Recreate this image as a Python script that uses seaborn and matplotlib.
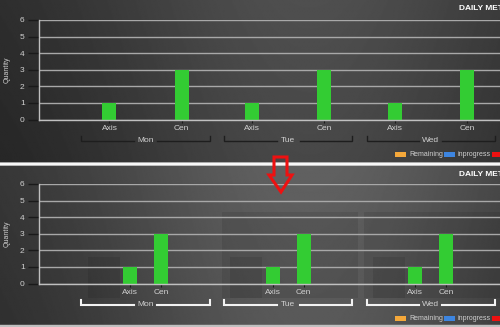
import numpy as np
import pandas as pd
import matplotlib
matplotlib.use("Agg")
import matplotlib.pyplot as plt
from matplotlib.patches import Rectangle, Polygon
import seaborn as sns

days = ["Mon", "Tue", "Wed"]
items = ["Axis", "Cen"]
axis_vals = [1, 1, 1]
cen_vals = [3, 3, 3]
yticks = [0, 1, 2, 3, 4, 5, 6]
legend_labels = ["Remaining", "inprogress", "completed"]
legend_colors = ["#f5a83a", "#3d85e0", "#ee1111"]
title = "DAILY METRICS"
ylabel = "Quantity"

df = pd.DataFrame({
    "day": days * 2,
    "item": ["Axis"] * 3 + ["Cen"] * 3,
    "value": axis_vals + cen_vals,
})

plt.rcParams["font.family"] = ["Liberation Sans", "DejaVu Sans"]

W, H = 500, 327
fig = plt.figure(figsize=(5, 3.27), dpi=100)


def fx(x):
    return x / W


def fy(y):
    return 1 - y / H


# background gradients
bg = fig.add_axes([0, 0, 1, 1], zorder=-10)
bg.set_axis_off()
xs = np.linspace(0, 1, 400)
ys = np.linspace(0, 1, 300)
X, Y = np.meshgrid(xs, ys)
img = np.zeros_like(X)
ypx = Y * H
top = ypx < 162.5
bot = (ypx >= 165.5) & (ypx < 325)
horiz = np.exp(-((X - 0.62) / 0.45) ** 2)
img[:] = 1.0
img[top] = (0.16 + 0.15 * horiz)[top] - 0.03 * (ypx[top] / 162)
img[bot] = (0.19 + 0.19 * horiz)[bot] - 0.03 * ((ypx[bot] - 165) / 160)
img[(ypx >= 162.5) & (ypx < 165.5)] = 0.97
img[ypx >= 325] = 0.75
bg.imshow(img, cmap="gray", vmin=0, vmax=1, extent=[0, 1, 0, 1],
          aspect="auto", origin="upper", interpolation="bilinear")
bg.set_xlim(0, 1)
bg.set_ylim(0, 1)

green = "#33cc33"
grid_c = "#a8a8a8"
tick_c = "#d0d0d0"


def make_panel(y0, y6, bracket_color, bracket_lw, width, gap):
    ax = fig.add_axes([fx(38.5), fy(y0), 1 - fx(38.5), fy(y6) - fy(y0)])
    ax.patch.set_alpha(0)
    sns.barplot(data=df, x="day", y="value", hue="item", order=days,
                hue_order=items, palette=[green, green], width=width,
                gap=gap, legend=False, ax=ax, saturation=1, edgecolor="none")
    ax.set_ylim(0, 6)
    ax.set_xlim(-0.75, 2.485)
    ax.set_yticks(yticks)
    ax.set_yticklabels([str(t) for t in yticks], color=tick_c, fontsize=6)
    ax.tick_params(axis="y", length=8, width=1, color="#1a1a1a", pad=2)
    ax.yaxis.grid(True, color=grid_c, lw=1)
    ax.set_axisbelow(True)
    for s in ["top", "right"]:
        ax.spines[s].set_visible(False)
    for s in ["left", "bottom"]:
        ax.spines[s].set_color("#c0c0c0")
        ax.spines[s].set_linewidth(1)
    centers = sorted(p.get_x() + p.get_width() / 2 for p in ax.patches)
    labels = [items[k % 2] for k in range(len(centers))]
    ax.set_xticks(centers)
    ax.set_xticklabels(labels, color=tick_c, fontsize=6)
    ax.tick_params(axis="x", length=2, color="#1a1a1a", pad=2)
    ax.set_xlabel("")
    ax.set_ylabel(ylabel, color=tick_c, fontsize=5, labelpad=7)
    tr = ax.get_xaxis_transform()
    h = y0 - y6
    yb = -(21.0 / h)
    yt = -(16.0 / h)
    for i, d in enumerate(days):
        l, r = i - 0.45, i + 0.45
        ax.plot([l, l, i - 0.08], [yt, yb, yb], color=bracket_color, lw=bracket_lw,
                transform=tr, clip_on=False, solid_joinstyle="miter")
        ax.plot([i + 0.08, r, r], [yb, yb, yt], color=bracket_color, lw=bracket_lw,
                transform=tr, clip_on=False, solid_joinstyle="miter")
        ax.text(i, yb, d, transform=tr, ha="center", va="center",
                color=tick_c, fontsize=6)
    return ax


# shaded rectangles (bottom panel)
for (x0, y0_, x1, y1_) in [(88, 257, 120, 298), (222, 212, 358, 298),
                           (230, 257, 262, 298), (364, 212, 500, 298),
                           (373, 257, 405, 298)]:
    fig.patches.append(Rectangle((fx(x0), fy(y1_)), fx(x1) - fx(x0), fy(y0_) - fy(y1_),
                                 transform=fig.transFigure, facecolor="black",
                                 alpha=0.09, edgecolor="none", zorder=-5))

ax1 = make_panel(119.5, 20, "#1e1e1e", 1.0, 1.01, 0.806)
ax2 = make_panel(283.5, 184, "#f2f2f2", 1.5, 0.435, 0.55)

# titles
for ty in [9, 174]:
    fig.text(fx(459), fy(ty), title, color="white", fontsize=6,
             fontweight="bold", va="center", ha="left")

# legends
for ly in [154, 318]:
    xs_box = [395, 444, 492]
    for lab, col, bx in zip(legend_labels, legend_colors, xs_box):
        fig.patches.append(Rectangle((fx(bx), fy(ly + 2.5)), fx(11), 5 / H,
                                     transform=fig.transFigure, facecolor=col,
                                     edgecolor="none"))
        fig.text(fx(bx + 14), fy(ly), lab, color=tick_c, fontsize=5,
                 va="center", ha="left")

# red hollow arrow
pts = [(274, 157), (287, 157), (287, 175), (292, 175), (281, 192),
       (269, 175), (274, 175)]
fig.patches.append(Polygon([(fx(a), fy(b)) for a, b in pts], closed=True,
                           transform=fig.transFigure, facecolor="none",
                           edgecolor="#ee1111", lw=2.2, zorder=20,
                           joinstyle="miter"))

fig.savefig("out.png", dpi=100)
